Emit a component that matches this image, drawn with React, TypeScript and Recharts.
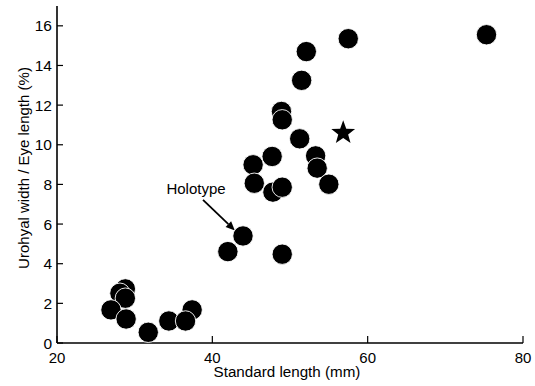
import React from 'react';
import { ScatterChart, Scatter, XAxis, YAxis, ReferenceLine, ReferenceDot } from 'recharts';

const xTicks = [20, 40, 60, 80];
const yTicks = [0, 2, 4, 6, 8, 10, 12, 14, 16];

const xTitle = 'Standard length (mm)';
const yTitle = 'Urohyal width / Eye length (%)';

const specimenLength = [
  28.8, 28.1, 28.8, 26.95, 28.9, 31.75, 34.4, 37.4, 36.55,
  42.0, 43.95, 49.0,
  48.9, 49.0, 51.25, 53.3, 53.5, 55.0, 47.7, 45.25, 45.4, 47.8, 49.0,
  51.5, 52.1, 57.5, 75.3,
];
const specimenRatio = [
  2.73, 2.51, 2.26, 1.67, 1.21, 0.54, 1.11, 1.67, 1.11,
  4.61, 5.4, 4.48,
  11.68, 11.26, 10.3, 9.44, 8.82, 8.01, 9.41, 8.99, 8.06, 7.61, 7.86,
  13.25, 14.7, 15.35, 15.55,
];
const starLength = [56.85];
const starRatio = [10.6];

const holotypeLabel = 'Holotype';
const holotypeText = { x: 37.9, y: 7.8 };
const holotypeArrow = [
  { x: 38.8, y: 7.22 },
  { x: 42.9, y: 5.68 },
];

const circles = specimenLength.map((x, i) => ({ x, y: specimenRatio[i] }));
const stars = starLength.map((x, i) => ({ x, y: starRatio[i] }));

const FONT = '"Liberation Sans", Arial, sans-serif';

const XTick = (props: any) => {
  const { x, y, payload } = props;
  return (
    <g>
      <line x1={x} x2={x} y1={y} y2={y - 7} stroke="#000" strokeWidth={1.2} />
      <text x={x} y={y + 20} textAnchor="middle" fontSize={15} fontFamily={FONT} fill="#000">
        {payload.value}
      </text>
    </g>
  );
};

const YTick = (props: any) => {
  const { x, y, payload } = props;
  return (
    <g>
      <line x1={x} x2={x + 6} y1={y} y2={y} stroke="#000" strokeWidth={1.2} />
      <text x={x - 5} y={y + 5.5} textAnchor="end" fontSize={15.5} fontFamily={FONT} fill="#000">
        {payload.value}
      </text>
    </g>
  );
};

const XTitle = (props: any) => {
  const vb = props.viewBox || {};
  return (
    <text
      x={vb.x + vb.width / 2 - 3}
      y={vb.y + 34}
      textAnchor="middle"
      fontSize={15.2}
      fontFamily={FONT}
      fill="#000"
    >
      {xTitle}
    </text>
  );
};

const YTitle = (props: any) => {
  const vb = props.viewBox || {};
  const x = vb.x + 28.5;
  const y = vb.y + vb.height / 2 - 6.5;
  return (
    <text
      x={x}
      y={y}
      transform={`rotate(-90, ${x}, ${y})`}
      textAnchor="middle"
      fontSize={15}
      fontFamily={FONT}
      fill="#000"
    >
      {yTitle}
    </text>
  );
};

const Dot = (props: any) => {
  const { cx, cy } = props;
  return <circle cx={cx} cy={cy} r={10.2} fill="#000" stroke="#fff" strokeWidth={0.9} />;
};

const Star = (props: any) => {
  const { cx, cy } = props;
  const outer = 12.5;
  const inner = 5.2;
  const pts: string[] = [];
  for (let i = 0; i < 10; i++) {
    const r = i % 2 === 0 ? outer : inner;
    const a = -Math.PI / 2 + (i * Math.PI) / 5;
    pts.push(`${cx + r * Math.cos(a)},${cy + r * Math.sin(a)}`);
  }
  return <polygon points={pts.join(' ')} fill="#000" />;
};

const Arrow = (props: any) => {
  const { x1, y1, x2, y2 } = props;
  const ang = Math.atan2(y2 - y1, x2 - x1);
  const len = 9;
  const w = 4;
  const bx = x2 - len * Math.cos(ang);
  const by = y2 - len * Math.sin(ang);
  const px = -Math.sin(ang) * w;
  const py = Math.cos(ang) * w;
  return (
    <g>
      <line x1={x1} y1={y1} x2={bx} y2={by} stroke="#000" strokeWidth={1.8} />
      <polygon points={`${x2},${y2} ${bx + px},${by + py} ${bx - px},${by - py}`} fill="#000" />
    </g>
  );
};

const HoloLabel = (props: any) => {
  const { cx, cy } = props;
  return (
    <text x={cx} y={cy + 5.5} textAnchor="middle" fontSize={15} fontFamily={FONT} fill="#000">
      {holotypeLabel}
    </text>
  );
};

export default function App() {
  return (
    <div style={{ position: 'absolute', left: 0, top: 0, background: '#fff' }}>
      <ScatterChart width={535} height={386} margin={{ top: 6, right: 12, bottom: 0, left: 0 }}>
        <XAxis
          type="number"
          dataKey="x"
          domain={[20, 80]}
          ticks={xTicks}
          interval={0}
          height={43}
          tickSize={0}
          tickMargin={0}
          tickLine={false}
          tick={<XTick />}
          axisLine={{ stroke: '#000', strokeWidth: 1.6 }}
          label={<XTitle />}
        />
        <YAxis
          type="number"
          dataKey="y"
          domain={[0, 17]}
          ticks={yTicks}
          interval={0}
          width={57}
          tickSize={0}
          tickMargin={0}
          tickLine={false}
          tick={<YTick />}
          axisLine={{ stroke: '#000', strokeWidth: 1.6 }}
          label={<YTitle />}
        />
        <Scatter data={circles} shape={<Dot />} isAnimationActive={false} />
        <Scatter data={stars} shape={<Star />} isAnimationActive={false} />
        <ReferenceLine segment={holotypeArrow} shape={<Arrow />} />
        <ReferenceDot x={holotypeText.x} y={holotypeText.y} r={0} shape={<HoloLabel />} />
      </ScatterChart>
    </div>
  );
}
